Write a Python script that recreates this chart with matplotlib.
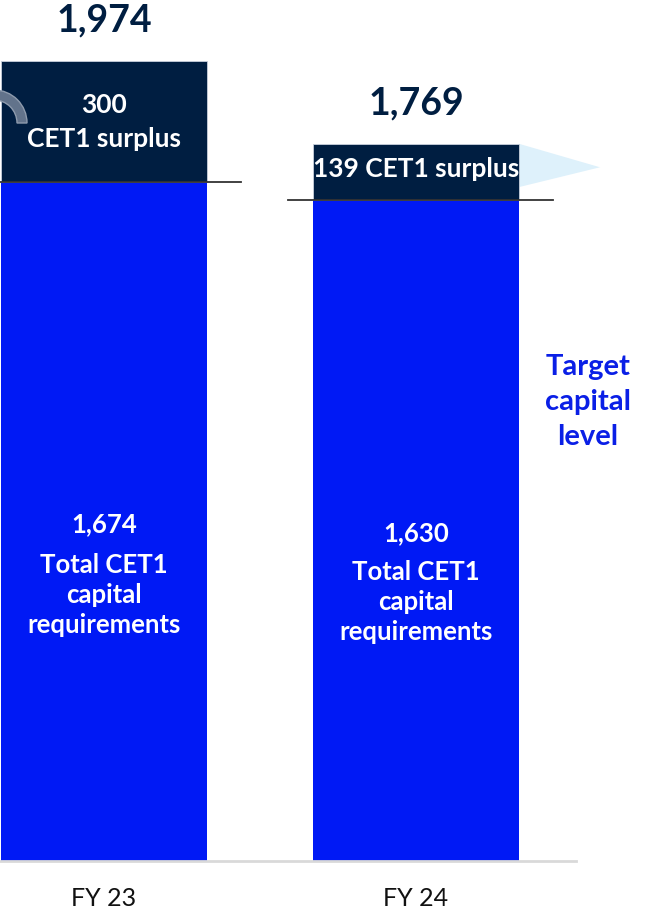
import matplotlib
matplotlib.use('Agg')
import matplotlib.pyplot as plt
from matplotlib.patches import Polygon, Wedge
from matplotlib.transforms import IdentityTransform

plt.rcParams['font.family'] = ['Lato', 'DejaVu Sans']

years = ["FY 23", "FY 24"]
requirements = [1674, 1630]
surplus = [300, 139]
totals = [1974, 1769]
req_numbers = ["1,674", "1,630"]
req_text = "Total CET1\ncapital\nrequirements"
surplus_labels = ["300\nCET1 surplus", "139 CET1 surplus"]
total_labels = ["1,974", "1,769"]

BLUE = '#0019f5'
NAVY = '#001e41'

W, H = 648, 912
fig = plt.figure(figsize=(W / 100, H / 100), dpi=100)
ax = fig.add_axes([0, 50 / H, 576 / W, 862 / H])

x = [0, 1]
width = 0.66
ax.bar(x, requirements, width, color=BLUE, zorder=2)
ax.bar(x, surplus, width, bottom=requirements, color=NAVY, edgecolor='#c8d0dc', linewidth=0.6, zorder=2)

ax.set_xlim(-0.333, 1.513)
ax.set_ylim(0, 2126)

for i in range(2):
    # threshold line at top of requirement
    ax.plot([x[i] - 0.41, x[i] + 0.44], [requirements[i]] * 2, color='#333333', lw=1.3, zorder=3)
    ax.annotate(total_labels[i], (x[i], totals[i]), xytext=(0, 41), textcoords='offset pixels',
                ha='center', va='center', fontsize=27, fontweight='bold', color=NAVY, zorder=5)
    ax.annotate(surplus_labels[i], (x[i], requirements[i] + surplus[i] / 2),
                xytext=(0, 0 if i == 0 else 4), textcoords='offset pixels',
                ha='center', va='center', fontsize=19, fontweight='bold',
                color='white', linespacing=1.5, zorder=5)
    ax.text(x[i], requirements[i] * 0.498, req_numbers[i], ha='center', va='center',
            fontsize=18.5, fontweight='bold', color='white', zorder=5)
    ax.text(x[i], requirements[i] * 0.393, req_text, ha='center', va='center',
            fontsize=18.5, fontweight='bold', color='white', linespacing=1.31, zorder=5)

# light blue pointer on FY 24 surplus
ax.add_patch(Polygon([[x[1] + 0.33, totals[1]], [x[1] + 0.59, totals[1] - 58],
                      [x[1] + 0.33, totals[1] - 107]], closed=True,
                     facecolor='#def1fb', edgecolor='none', zorder=1, clip_on=False))

# partially hidden grey curved arrow on FY 23
fig.patches.append(Wedge((-6, H - 124), 33, 0, 90, width=10, facecolor='#62738b',
                         edgecolor='#8e9bad', lw=1, transform=IdentityTransform(), zorder=4))

fig.text(588 / W, 1 - 402 / H, "Target\ncapital\nlevel", ha='center', va='center',
         fontsize=21, fontweight='bold', color='#0a1fe6', linespacing=1.42)

ax.set_xticks(x)
ax.set_xticklabels(years, fontsize=18, color='#111111')
ax.tick_params(axis='x', length=0, pad=18)
ax.set_yticks([])
for s in ['top', 'left', 'right']:
    ax.spines[s].set_visible(False)
ax.spines['bottom'].set_color('#d9d9d9')
ax.spines['bottom'].set_linewidth(2)

fig.savefig('out.png', dpi=100)
